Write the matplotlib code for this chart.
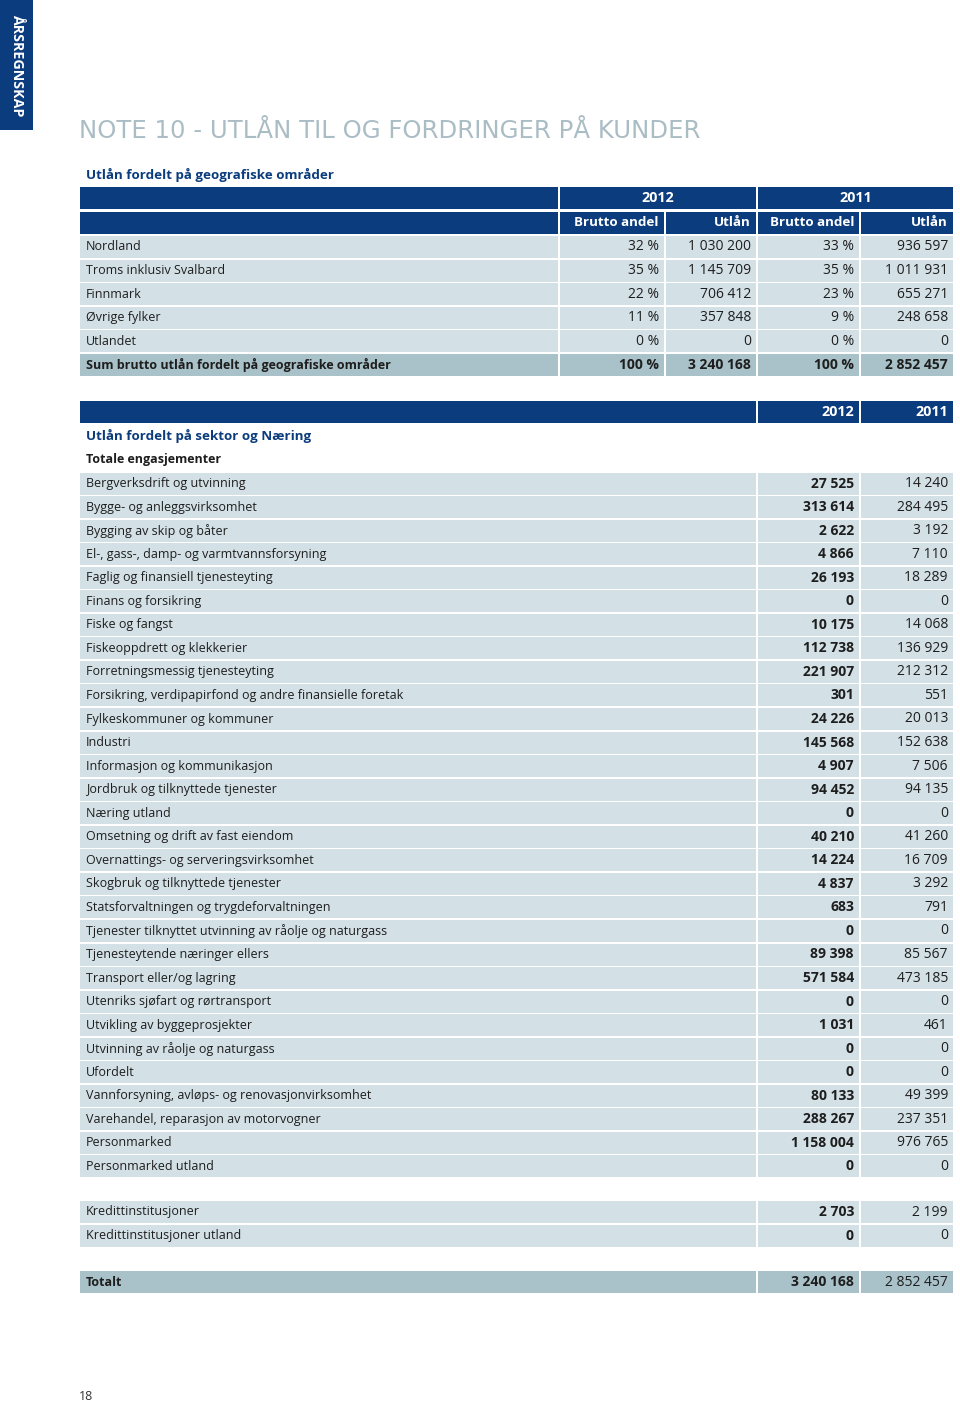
import matplotlib
matplotlib.use('Agg')
import matplotlib.pyplot as plt
from matplotlib.patches import Rectangle

plt.rcParams['font.family'] = ['Open Sans', 'DejaVu Sans']

# Colours
DARK_BLUE = '#0b3c7d'
ROW_FILL = '#d3e0e6'
SUM_FILL = '#a9c1c8'
TITLE_COL = '#aabdc5'
TEXT_COL = '#1e1e1e'

# Table 1: geografiske områder
geo_regions = ['Nordland', 'Troms inklusiv Svalbard', 'Finnmark', 'Øvrige fylker', 'Utlandet']
geo_share_2012 = [32, 35, 22, 11, 0]
geo_loans_2012 = [1030200, 1145709, 706412, 357848, 0]
geo_share_2011 = [33, 35, 23, 9, 0]
geo_loans_2011 = [936597, 1011931, 655271, 248658, 0]
geo_sum_label = 'Sum brutto utlån fordelt på geografiske områder'
geo_sum = [100, 3240168, 100, 2852457]

# Table 2: sektor og næring
sectors = [
    'Bergverksdrift og utvinning', 'Bygge- og anleggsvirksomhet', 'Bygging av skip og båter',
    'El-, gass-, damp- og varmtvannsforsyning', 'Faglig og finansiell tjenesteyting',
    'Finans og forsikring', 'Fiske og fangst', 'Fiskeoppdrett og klekkerier',
    'Forretningsmessig tjenesteyting', 'Forsikring, verdipapirfond og andre finansielle foretak',
    'Fylkeskommuner og kommuner', 'Industri', 'Informasjon og kommunikasjon',
    'Jordbruk og tilknyttede tjenester', 'Næring utland', 'Omsetning og drift av fast eiendom',
    'Overnattings- og serveringsvirksomhet', 'Skogbruk og tilknyttede tjenester',
    'Statsforvaltningen og trygdeforvaltningen',
    'Tjenester tilknyttet utvinning av råolje og naturgass', 'Tjenesteytende næringer ellers',
    'Transport eller/og lagring', 'Utenriks sjøfart og rørtransport',
    'Utvikling av byggeprosjekter', 'Utvinning av råolje og naturgass', 'Ufordelt',
    'Vannforsyning, avløps- og renovasjonvirksomhet', 'Varehandel, reparasjon av motorvogner',
    'Personmarked', 'Personmarked utland',
]
sector_2012 = [27525, 313614, 2622, 4866, 26193, 0, 10175, 112738, 221907, 301, 24226, 145568,
               4907, 94452, 0, 40210, 14224, 4837, 683, 0, 89398, 571584, 0, 1031, 0, 0, 80133,
               288267, 1158004, 0]
sector_2011 = [14240, 284495, 3192, 7110, 18289, 0, 14068, 136929, 212312, 551, 20013, 152638,
               7506, 94135, 0, 41260, 16709, 3292, 791, 0, 85567, 473185, 0, 461, 0, 0, 49399,
               237351, 976765, 0]
credit_labels = ['Kredittinstitusjoner', 'Kredittinstitusjoner utland']
credit_2012 = [2703, 0]
credit_2011 = [2199, 0]
total_2012 = 3240168
total_2011 = 2852457
years = ['2012', '2011']


def fmt(v):
    return f'{v:,}'.replace(',', ' ')


def pct(v):
    return f'{v} %'


fig = plt.figure(figsize=(9.6, 14.03), dpi=100)
ax = fig.add_axes([0, 0, 1, 1])
ax.set_xlim(0, 960)
ax.set_ylim(1403, 0)
ax.axis('off')

FS = 9.0      # labels
NFS = 10.0    # numbers
H = 22
PITCH = 23.55


def cell(x0, x1, yc, color):
    ax.add_patch(Rectangle((x0 + 1, yc - H / 2), x1 - x0 - 2, H, facecolor=color,
                           edgecolor='none'))


def row(edges, yc, color, label, values, bold_cols=(), label_bold=False):
    for x0, x1 in zip(edges[:-1], edges[1:]):
        cell(x0, x1, yc, color)
    ax.text(edges[0] + 7, yc, label, ha='left', va='center', fontsize=FS,
            color=TEXT_COL, fontweight='bold' if label_bold else 'normal')
    for k, v in enumerate(values):
        ax.text(edges[k + 2] - 6, yc, v, ha='right', va='center', fontsize=NFS,
                color=TEXT_COL, fontweight='bold' if k in bold_cols else 'normal')


# side tab
ax.add_patch(Rectangle((0, 0), 33, 130, facecolor=DARK_BLUE, edgecolor='none'))
ax.text(17, 65, 'ÅRSREGNSKAP', rotation=-90, ha='center', va='center', color='white',
        fontsize=10.3, fontweight='bold')

# title
ax.text(79, 131, 'NOTE 10 - UTLÅN TIL OG FORDRINGER PÅ KUNDER', ha='left', va='center',
        color=TITLE_COL, fontsize=17.6, family=['DejaVu Sans'])

# ---- table 1
ax.text(86, 175, 'Utlån fordelt på geografiske områder', ha='left', va='center',
        fontsize=9.6, fontweight='bold', color=DARK_BLUE)
e1 = [79, 559, 665, 757, 860, 954]
# header row 1
y = 197.5
for x0, x1 in [(e1[0], e1[1]), (e1[1], e1[3]), (e1[3], e1[5])]:
    cell(x0, x1, y, DARK_BLUE)
ax.text((e1[1] + e1[3]) / 2, y, years[0], ha='center', va='center', color='white',
        fontsize=NFS + 0.3, fontweight='bold')
ax.text((e1[3] + e1[5]) / 2, y, years[1], ha='center', va='center', color='white',
        fontsize=NFS + 0.3, fontweight='bold')
# header row 2
y = 222.5
for x0, x1 in zip(e1[:-1], e1[1:]):
    cell(x0, x1, y, DARK_BLUE)
for k, t in enumerate(['Brutto andel', 'Utlån', 'Brutto andel', 'Utlån']):
    ax.text(e1[k + 2] - 6, y, t, ha='right', va='center', color='white', fontsize=9.6,
            fontweight='bold')
for i, name in enumerate(geo_regions):
    vals = [pct(geo_share_2012[i]), fmt(geo_loans_2012[i]),
            pct(geo_share_2011[i]), fmt(geo_loans_2011[i])]
    row(e1, 247 + i * PITCH, ROW_FILL, name, vals)
vals = [pct(geo_sum[0]), fmt(geo_sum[1]), pct(geo_sum[2]), fmt(geo_sum[3])]
row(e1, 247 + len(geo_regions) * PITCH, SUM_FILL, geo_sum_label, vals,
    bold_cols=(0, 1, 2, 3), label_bold=True)

# ---- table 2
e2 = [79, 757, 860, 954]
y = 412
for x0, x1 in zip(e2[:-1], e2[1:]):
    cell(x0, x1, y, DARK_BLUE)
for k, t in enumerate(years):
    ax.text(e2[k + 2] - 6, y, t, ha='right', va='center', color='white',
            fontsize=NFS + 0.3, fontweight='bold')
ax.text(86, 436, 'Utlån fordelt på sektor og Næring', ha='left', va='center',
        fontsize=9.6, fontweight='bold', color=DARK_BLUE)
ax.text(86, 460, 'Totale engasjementer', ha='left', va='center', fontsize=FS,
        fontweight='bold', color=TEXT_COL)
for i, name in enumerate(sectors):
    row(e2, 483.5 + i * PITCH, ROW_FILL, name,
        [fmt(sector_2012[i]), fmt(sector_2011[i])], bold_cols=(0,))
for i, name in enumerate(credit_labels):
    row(e2, 1212 + i * PITCH, ROW_FILL, name,
        [fmt(credit_2012[i]), fmt(credit_2011[i])], bold_cols=(0,))
row(e2, 1282, SUM_FILL, 'Totalt', [fmt(total_2012), fmt(total_2011)], bold_cols=(0,),
    label_bold=True)

# page number
ax.text(79, 1396, '18', ha='left', va='center', fontsize=9, color='#333333')

fig.savefig('out.png', dpi=100)
